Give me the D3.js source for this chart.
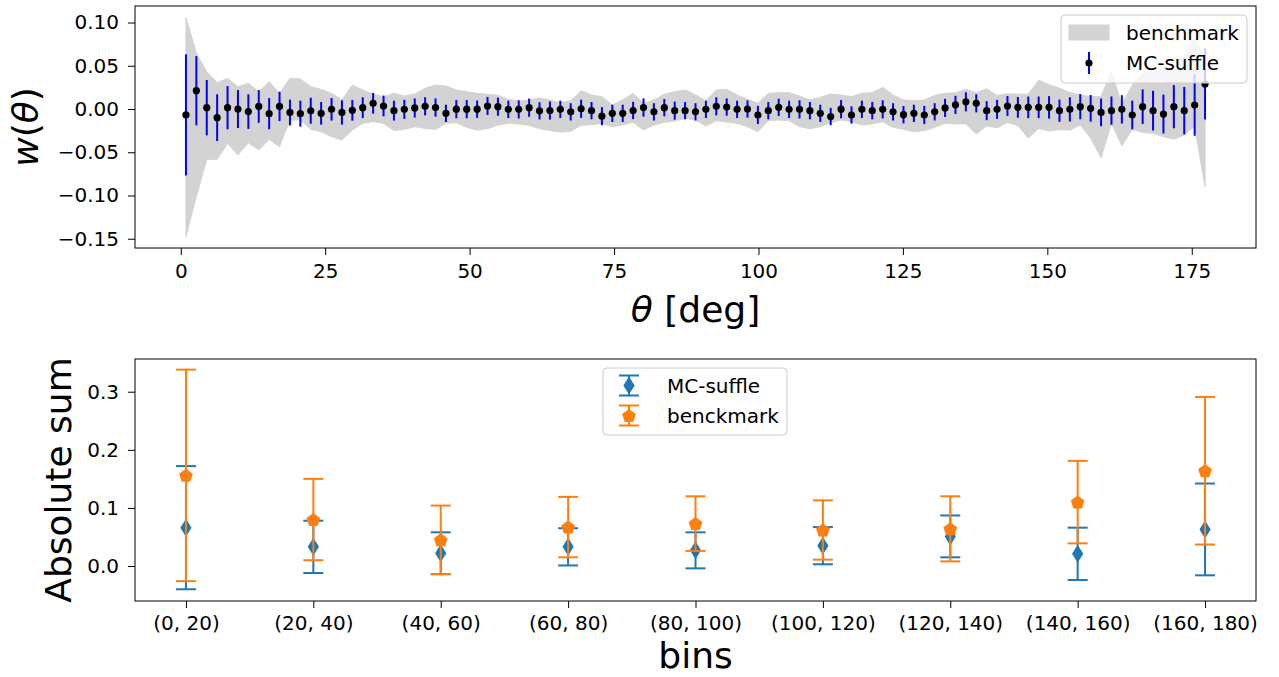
<!DOCTYPE html>
<html>
<head>
<meta charset="utf-8">
<script src="https://cdn.jsdelivr.net/npm/d3@7"></script>
<style>
  body { margin: 0; background: #fff; }
  svg { display: block; }
  text { font-family: "DejaVu Sans", sans-serif; fill: #000; }
</style>
</head>
<body>
<svg id="fig" width="1279" height="677"></svg>
<script>
// ---- angular correlation w(theta): MC-shuffle points and benchmark band ----
const theta = [0.9, 2.7, 4.5, 6.3, 8.1, 9.9, 11.7, 13.5, 15.3, 17.1, 18.9, 20.7, 22.5, 24.3, 26.1, 27.9, 29.7, 31.5, 33.3, 35.1,
  36.9, 38.7, 40.5, 42.3, 44.1, 45.9, 47.7, 49.5, 51.3, 53.1, 54.9, 56.7, 58.5, 60.3, 62.1, 63.9, 65.7, 67.5, 69.3, 71.1,
  72.9, 74.7, 76.5, 78.3, 80.1, 81.9, 83.7, 85.5, 87.3, 89.1, 90.9, 92.7, 94.5, 96.3, 98.1, 99.9, 101.7, 103.5, 105.3, 107.1,
  108.9, 110.7, 112.5, 114.3, 116.1, 117.9, 119.7, 121.5, 123.3, 125.1, 126.9, 128.7, 130.5, 132.3, 134.1, 135.9, 137.7, 139.5, 141.3, 143.1,
  144.9, 146.7, 148.5, 150.3, 152.1, 153.9, 155.7, 157.5, 159.3, 161.1, 162.9, 164.7, 166.5, 168.3, 170.1, 171.9, 173.7, 175.5, 177.3];

const mcW = [-0.0068, 0.0212, 0.0015, -0.0100, 0.0015, 0.0000, -0.0030, 0.0030, -0.0054, 0.0030,
  -0.0040, -0.0054, -0.0020, -0.0050, -0.0004, -0.0040, -0.0015, 0.0015, 0.0066, 0.0035,
  -0.0019, -0.0004, 0.0012, 0.0031, 0.0017, -0.0050, -0.0002, -0.0002, -0.0002, 0.0035,
  0.0027, -0.0004, -0.0004, 0.0015, -0.0021, -0.0017, -0.0004, -0.0033, 0.0002, -0.0019,
  -0.0083, -0.0050, -0.0050, -0.0017, 0.0017, -0.0033, 0.0015, -0.0019, -0.0019, -0.0033,
  -0.0004, 0.0031, 0.0023, -0.0004, 0.0000, -0.0069, -0.0019, 0.0019, -0.0004, -0.0004,
  -0.0019, -0.0050, -0.0087, -0.0002, -0.0069, -0.0004, -0.0019, -0.0004, -0.0033, -0.0066,
  -0.0050, -0.0069, -0.0033, 0.0013, 0.0048, 0.0083, 0.0066, -0.0019, -0.0004, 0.0035,
  0.0019, 0.0019, 0.0019, 0.0019, -0.0019, -0.0004, 0.0027, 0.0008, -0.0039, -0.0019,
  -0.0004, -0.0069, 0.0027, -0.0019, -0.0058, 0.0027, -0.0019, 0.0046, 0.0289];

const mcErr = [0.070, 0.040, 0.032, 0.027, 0.025, 0.022, 0.020, 0.019, 0.018, 0.017,
  0.015, 0.015, 0.015, 0.013, 0.013, 0.014, 0.012, 0.012, 0.012, 0.012,
  0.0115, 0.011, 0.011, 0.0105, 0.0105, 0.010, 0.0105, 0.0105, 0.010, 0.0105,
  0.0105, 0.010, 0.0105, 0.0105, 0.010, 0.0105, 0.010, 0.010, 0.0105, 0.010,
  0.0105, 0.010, 0.010, 0.010, 0.0105, 0.010, 0.010, 0.0105, 0.010, 0.010,
  0.010, 0.0105, 0.010, 0.010, 0.010, 0.0105, 0.010, 0.010, 0.010, 0.0105,
  0.010, 0.010, 0.010, 0.0105, 0.010, 0.010, 0.010, 0.0105, 0.010, 0.010,
  0.010, 0.0105, 0.010, 0.0105, 0.0105, 0.011, 0.0105, 0.011, 0.011, 0.0115,
  0.012, 0.0125, 0.0125, 0.013, 0.0129, 0.014, 0.0145, 0.0154, 0.016, 0.0164,
  0.0164, 0.0166, 0.020, 0.023, 0.0225, 0.025, 0.0274, 0.0356, 0.041];

const benchHi = [0.1059, 0.0647, 0.0432, 0.0304, 0.0355, 0.0258, 0.0297, 0.0200, 0.0316, 0.0181,
  0.0355, 0.0347, 0.0258, 0.0227, 0.0181, 0.0104, 0.0277, 0.0220, 0.0173, 0.0143,
  0.0181, 0.0150, 0.0173, 0.0239, 0.0277, 0.0266, 0.0220, 0.0200, 0.0181, 0.0170,
  0.0158, 0.0112, 0.0092, 0.0104, 0.0127, 0.0104, 0.0073, 0.0096, 0.0212, 0.0162,
  0.0143, 0.0046, 0.0104, 0.0181, 0.0066, 0.0104, 0.0170, 0.0200, 0.0220, 0.0162,
  0.0096, 0.0220, 0.0227, 0.0162, 0.0112, 0.0066, 0.0181, 0.0189, 0.0189, 0.0150,
  0.0104, 0.0135, 0.0173, 0.0162, 0.0143, 0.0181, 0.0189, 0.0250, 0.0162, 0.0104,
  0.0096, 0.0104, 0.0158, 0.0181, 0.0189, 0.0225, 0.0190, 0.0233, 0.0156, 0.0175,
  0.0172, 0.0172, 0.0333, 0.0281, 0.0240, 0.0190, 0.0162, 0.0143, 0.0143, 0.0440,
  0.0046, 0.0277, 0.0420, 0.0430, 0.0470, 0.0510, 0.0620, 0.0817, 0.0600];

const benchLo = [-0.1476, -0.1013, -0.0582, -0.0582, -0.0397, -0.0532, -0.0389, -0.0474, -0.0351, -0.0435,
  -0.0127, -0.0127, -0.0235, -0.0262, -0.0320, -0.0358, -0.0243, -0.0166, -0.0146, -0.0166,
  -0.0250, -0.0235, -0.0204, -0.0224, -0.0235, -0.0166, -0.0158, -0.0212, -0.0243, -0.0227,
  -0.0185, -0.0166, -0.0173, -0.0189, -0.0227, -0.0250, -0.0266, -0.0258, -0.0189, -0.0181,
  -0.0166, -0.0204, -0.0185, -0.0154, -0.0243, -0.0185, -0.0154, -0.0139, -0.0108, -0.0127,
  -0.0197, -0.0135, -0.0150, -0.0166, -0.0204, -0.0262, -0.0135, -0.0127, -0.0135, -0.0204,
  -0.0227, -0.0204, -0.0158, -0.0127, -0.0146, -0.0185, -0.0173, -0.0146, -0.0212, -0.0235,
  -0.0262, -0.0250, -0.0212, -0.0166, -0.0173, -0.0170, -0.0290, -0.0195, -0.0218, -0.0156,
  -0.0191, -0.0335, -0.0224, -0.0254, -0.0239, -0.0243, -0.0185, -0.0339, -0.0563, -0.0166,
  -0.0425, -0.0234, -0.0271, -0.0281, -0.0320, -0.0350, -0.0300, -0.0200, -0.0898];

const thetaTicks = [0, 25, 50, 75, 100, 125, 150, 175];
const wTicks = [-0.15, -0.10, -0.05, 0.00, 0.05, 0.10];

// ---- absolute sum per 20-degree bin ----
const bins = ["(0, 20)", "(20, 40)", "(40, 60)", "(60, 80)", "(80, 100)", "(100, 120)", "(120, 140)", "(140, 160)", "(160, 180)"];
const sumMC = [0.066, 0.033, 0.022, 0.033, 0.027, 0.035, 0.051, 0.021, 0.063];
const sumMCErr = [0.106, 0.045, 0.036, 0.032, 0.031, 0.032, 0.036, 0.045, 0.079];
const sumBench = [0.156, 0.080, 0.045, 0.067, 0.073, 0.062, 0.064, 0.110, 0.164];
const sumBenchErr = [0.182, 0.070, 0.059, 0.052, 0.047, 0.051, 0.056, 0.071, 0.127];
const sumTicks = [0.0, 0.1, 0.2, 0.3];

const BLUE = "#1f77b4", ORANGE = "#ff7f0e", BAND = "#d3d3d3";
const LABEL_SIZE = 36;
const svg = d3.select("#fig");
svg.append("rect").attr("width", 1279).attr("height", 677).attr("fill", "#fff");

function styleAxis(g) {
  g.select(".domain").remove();
  g.selectAll(".tick line").attr("stroke", "#000").attr("stroke-width", 1);
  g.selectAll(".tick text").attr("font-size", 20).attr("font-family", "DejaVu Sans").attr("fill", "#000");
}

// ================= top panel =================
const P1 = { l: 135, r: 1256, t: 6, b: 248 };
const x1 = d3.scaleLinear().domain([-7.92, 186.12]).range([P1.l, P1.r]);
const y1 = d3.scaleLinear().domain([-0.1607, 0.1191]).range([P1.b, P1.t]);

const band = d3.area()
  .x((d, i) => x1(theta[i]))
  .y0((d, i) => y1(benchLo[i]))
  .y1((d, i) => y1(benchHi[i]));
svg.append("path").datum(theta).attr("d", band)
  .attr("fill", BAND).attr("stroke", BAND).attr("stroke-width", 1);

const pts = theta.map((t, i) => ({ t, w: mcW[i], e: mcErr[i] }));
svg.append("g").selectAll("line").data(pts).join("line")
  .attr("x1", d => x1(d.t)).attr("x2", d => x1(d.t))
  .attr("y1", d => y1(d.w - d.e)).attr("y2", d => y1(d.w + d.e))
  .attr("stroke", "#0000ff").attr("stroke-width", 2);
svg.append("g").selectAll("circle").data(pts).join("circle")
  .attr("cx", d => x1(d.t)).attr("cy", d => y1(d.w)).attr("r", 3.6).attr("fill", "#000");

svg.append("g").attr("transform", `translate(0,${P1.b})`)
  .call(d3.axisBottom(x1).tickValues(thetaTicks).tickSize(7).tickPadding(9).tickFormat(d3.format("d")))
  .call(styleAxis);
svg.append("g").attr("transform", `translate(${P1.l},0)`)
  .call(d3.axisLeft(y1).tickValues(wTicks).tickSize(7).tickPadding(9).tickFormat(d3.format(".2f")))
  .call(styleAxis);
svg.append("rect").attr("x", P1.l).attr("y", P1.t).attr("width", P1.r - P1.l).attr("height", P1.b - P1.t)
  .attr("fill", "none").attr("stroke", "#000").attr("stroke-width", 1);

// axis titles
const xt1 = svg.append("text").attr("x", (P1.l + P1.r) / 2).attr("y", 322)
  .attr("text-anchor", "middle").attr("font-size", LABEL_SIZE);
xt1.append("tspan").attr("font-style", "italic").text("θ");
xt1.append("tspan").text(" [deg]");
const yt1 = svg.append("text").attr("transform", `translate(38,${(P1.t + P1.b) / 2}) rotate(-90)`)
  .attr("text-anchor", "middle").attr("font-size", LABEL_SIZE);
yt1.append("tspan").attr("font-style", "italic").text("w");
yt1.append("tspan").text("(");
yt1.append("tspan").attr("font-style", "italic").text("θ");
yt1.append("tspan").text(")");

// legend
const L1 = svg.append("g");
L1.append("rect").attr("x", 1061).attr("y", 15).attr("width", 186).attr("height", 68).attr("rx", 4)
  .attr("fill", "#fff").attr("fill-opacity", 0.8).attr("stroke", "#cccccc").attr("stroke-width", 1);
L1.append("rect").attr("x", 1069).attr("y", 25).attr("width", 40).attr("height", 15)
  .attr("fill", BAND).attr("stroke", BAND);
L1.append("text").attr("x", 1126).attr("y", 40).attr("font-size", 20).text("benchmark");
L1.append("line").attr("x1", 1089).attr("x2", 1089).attr("y1", 52).attr("y2", 74)
  .attr("stroke", "#0000ff").attr("stroke-width", 2);
L1.append("circle").attr("cx", 1089).attr("cy", 63).attr("r", 3.6).attr("fill", "#000");
L1.append("text").attr("x", 1126).attr("y", 70).attr("font-size", 20).text("MC-suffle");

// ================= bottom panel =================
const P2 = { l: 135, r: 1256, t: 359, b: 601 };
const x2 = d3.scaleLinear().domain([-0.4, bins.length - 1 + 0.4]).range([P2.l, P2.r]);
const y2 = d3.scaleLinear().domain([-0.0602, 0.3563]).range([P2.b, P2.t]);

const diamond = "M0,-9L5.6,0L0,9L-5.6,0Z";
const pentagon = d3.range(5).map(k => {
  const a = -Math.PI / 2 + k * 2 * Math.PI / 5;
  return [7.2 * Math.cos(a), 7.2 * Math.sin(a) + 0.6];
});
const pentPath = "M" + pentagon.map(p => p.join(",")).join("L") + "Z";

function errSeries(vals, errs, color, shape) {
  const g = svg.append("g");
  const d = vals.map((v, i) => ({ i, v, e: errs[i] }));
  g.selectAll("line.v").data(d).join("line").attr("class", "v")
    .attr("x1", p => x2(p.i)).attr("x2", p => x2(p.i))
    .attr("y1", p => y2(p.v - p.e)).attr("y2", p => y2(p.v + p.e))
    .attr("stroke", color).attr("stroke-width", 2);
  [-1, 1].forEach(s => {
    g.selectAll(`line.c${s}`).data(d).join("line").attr("class", `c${s}`)
      .attr("x1", p => x2(p.i) - 10).attr("x2", p => x2(p.i) + 10)
      .attr("y1", p => y2(p.v + s * p.e)).attr("y2", p => y2(p.v + s * p.e))
      .attr("stroke", color).attr("stroke-width", 2);
  });
  g.selectAll("path").data(d).join("path")
    .attr("d", shape).attr("transform", p => `translate(${x2(p.i)},${y2(p.v)})`)
    .attr("fill", color);
}
errSeries(sumMC, sumMCErr, BLUE, diamond);
errSeries(sumBench, sumBenchErr, ORANGE, pentPath);

svg.append("g").attr("transform", `translate(0,${P2.b})`)
  .call(d3.axisBottom(x2).tickValues(d3.range(bins.length)).tickSize(7).tickPadding(8).tickFormat(i => bins[i]))
  .call(styleAxis);
svg.append("g").attr("transform", `translate(${P2.l},0)`)
  .call(d3.axisLeft(y2).tickValues(sumTicks).tickSize(7).tickPadding(9).tickFormat(d3.format(".1f")))
  .call(styleAxis);
svg.append("rect").attr("x", P2.l).attr("y", P2.t).attr("width", P2.r - P2.l).attr("height", P2.b - P2.t)
  .attr("fill", "none").attr("stroke", "#000").attr("stroke-width", 1);

svg.append("text").attr("x", (P2.l + P2.r) / 2).attr("y", 668)
  .attr("text-anchor", "middle").attr("font-size", LABEL_SIZE).text("bins");
svg.append("text").attr("transform", `translate(71,${(P2.t + P2.b) / 2}) rotate(-90)`)
  .attr("text-anchor", "middle").attr("font-size", LABEL_SIZE).text("Absolute sum");

// legend
const L2 = svg.append("g");
L2.append("rect").attr("x", 603).attr("y", 368).attr("width", 184).attr("height", 67).attr("rx", 4)
  .attr("fill", "#fff").attr("fill-opacity", 0.8).attr("stroke", "#cccccc").attr("stroke-width", 1);
[["MC-suffle", BLUE, diamond, 385.5], ["benckmark", ORANGE, pentPath, 415.5]].forEach(([lab, col, shp, cy]) => {
  L2.append("line").attr("x1", 629).attr("x2", 629).attr("y1", cy - 10).attr("y2", cy + 10)
    .attr("stroke", col).attr("stroke-width", 2);
  [-10, 10].forEach(o => L2.append("line").attr("x1", 619).attr("x2", 639).attr("y1", cy + o).attr("y2", cy + o)
    .attr("stroke", col).attr("stroke-width", 2));
  L2.append("path").attr("d", shp).attr("transform", `translate(629,${cy})`).attr("fill", col);
  L2.append("text").attr("x", 667).attr("y", cy + 7).attr("font-size", 20).text(lab);
});
</script>
</body>
</html>
